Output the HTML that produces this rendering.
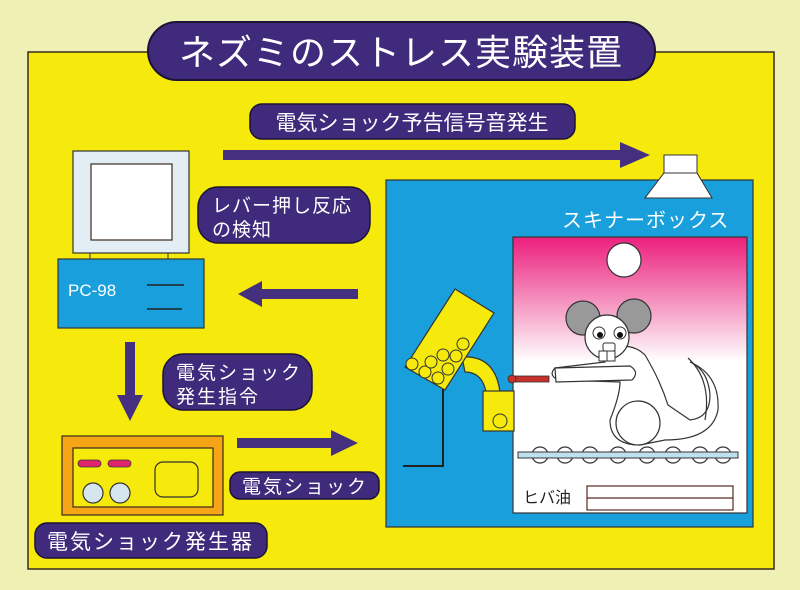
<!DOCTYPE html>
<html><head><meta charset="utf-8"><style>
html,body{margin:0;padding:0;background:#eef0b4;}
svg{display:block}
text{font-family:"Liberation Sans","Noto Sans CJK JP",sans-serif;fill:#fff;}
</style></head><body>
<svg width="800" height="590" viewBox="0 0 800 590" xmlns="http://www.w3.org/2000/svg">
<defs>
<linearGradient id="pk" x1="0" y1="0" x2="0" y2="1">
<stop offset="0" stop-color="#ec1f7d"/><stop offset="0.38" stop-color="#fbdbe9"/><stop offset="0.45" stop-color="#fff"/><stop offset="1" stop-color="#fff"/>
</linearGradient>
</defs>
<rect x="0" y="0" width="800" height="590" fill="#eef0b4"/>
<rect x="28" y="52" width="746" height="517" fill="#f5ea0c" stroke="#3a2a20" stroke-width="1.5"/>
<!-- title -->
<rect x="148" y="22" width="507" height="58" rx="29" fill="#3f2a7c" stroke="#1d1238" stroke-width="2"/>
<text x="401" y="65" font-size="36" text-anchor="middle" letter-spacing="1">ネズミのストレス実験装置</text>
<!-- subtitle -->
<rect x="250" y="104" width="325" height="35" rx="12" fill="#3f2a7c" stroke="#1d1238" stroke-width="1.5"/>
<text x="412" y="130" font-size="21" text-anchor="middle">電気ショック予告信号音発生</text>
<!-- top arrow -->
<rect x="223" y="150" width="400" height="10" fill="#44307e"/>
<polygon points="620,142 650,155 620,168" fill="#44307e"/>
<!-- speaker -->
<polygon points="664,155 697,155 697,173 712,198 645,198 664,173" fill="#fff" stroke="#333" stroke-width="1"/>
<!-- monitor -->
<rect x="73" y="151" width="116" height="102" fill="#e2eef4" stroke="#333" stroke-width="1.2"/>
<rect x="91" y="164" width="81" height="76" fill="#fff" stroke="#3a2a20" stroke-width="1.2"/>
<line x1="90" y1="253" x2="90" y2="260" stroke="#333"/><line x1="168" y1="253" x2="168" y2="260" stroke="#333"/>
<rect x="58" y="259" width="146" height="69" fill="#19a0dc" stroke="#333" stroke-width="1.2"/>
<text x="68" y="296" font-size="17">PC-98</text>
<line x1="147" y1="285" x2="184" y2="285" stroke="#222" stroke-width="1.5"/>
<line x1="147" y1="309" x2="182" y2="309" stroke="#222" stroke-width="1.5"/>
<!-- bubble lever -->
<rect x="198" y="187" width="172" height="56" rx="20" fill="#3f2a7c" stroke="#1d1238" stroke-width="1.5"/>
<text x="212" y="212" font-size="19" letter-spacing="1">レバー押し反応</text>
<text x="212" y="236" font-size="19" letter-spacing="1">の検知</text>
<!-- left arrow -->
<rect x="260" y="289" width="98" height="10" fill="#44307e"/>
<polygon points="262,281 238,294 262,307" fill="#44307e"/>
<!-- down arrow -->
<rect x="125" y="342" width="10" height="56" fill="#44307e"/>
<polygon points="117,395 143,395 130,421" fill="#44307e"/>
<!-- bubble command -->
<rect x="163" y="354" width="149" height="56" rx="20" fill="#3f2a7c" stroke="#1d1238" stroke-width="1.5"/>
<text x="176" y="379" font-size="19" letter-spacing="2">電気ショック</text>
<text x="176" y="403" font-size="19" letter-spacing="2">発生指令</text>
<!-- generator -->
<rect x="62" y="436" width="161" height="79" fill="#f5a515" stroke="#3a2a20" stroke-width="1.2"/>
<rect x="73" y="448" width="140" height="59" fill="#f5ea0c" stroke="#3a2a20" stroke-width="1.2"/>
<rect x="78" y="460" width="23" height="7" rx="3.5" fill="#e0246e" stroke="#333" stroke-width="0.8"/>
<rect x="108" y="460" width="23" height="7" rx="3.5" fill="#e0246e" stroke="#333" stroke-width="0.8"/>
<circle cx="93" cy="493" r="10" fill="#d6e6ef" stroke="#333" stroke-width="1.2"/>
<circle cx="120" cy="493" r="10" fill="#d6e6ef" stroke="#333" stroke-width="1.2"/>
<rect x="155" y="462" width="43" height="35" rx="8" fill="#f5ea0c" stroke="#333" stroke-width="1.2"/>
<!-- right arrow -->
<rect x="237" y="438" width="97" height="10" fill="#44307e"/>
<polygon points="331,430 358,443 331,456" fill="#44307e"/>
<rect x="230" y="472" width="149" height="27" rx="10" fill="#3f2a7c" stroke="#1d1238" stroke-width="1.5"/>
<text x="242" y="493" font-size="19" letter-spacing="2">電気ショック</text>
<rect x="35" y="523" width="232" height="35" rx="12" fill="#3f2a7c" stroke="#1d1238" stroke-width="1.5"/>
<text x="47" y="549" font-size="21" letter-spacing="2">電気ショック発生器</text>
<!-- blue box -->
<rect x="386" y="180" width="367" height="347" fill="#19a0dc" stroke="#333" stroke-width="1.2"/>
<polygon points="664,180 697,180 697,173 664,173" fill="#fff"/>
<polygon points="664,173 697,173 712,198 645,198" fill="#fff" stroke="#333" stroke-width="1"/>
<text x="562" y="227" font-size="20" letter-spacing="1">スキナーボックス</text>
<rect x="513" y="237" width="234" height="276" fill="url(#pk)" stroke="#333" stroke-width="1.2"/>
<circle cx="624" cy="260" r="17" fill="#fff" stroke="#333" stroke-width="1.2"/>
<!-- mouse -->
<circle cx="583" cy="318" r="17" fill="#999" stroke="#333" stroke-width="1.2"/>
<circle cx="634" cy="316" r="17" fill="#999" stroke="#333" stroke-width="1.2"/>
<path d="M600,350 Q630,340 645,355 Q660,380 668,405 L690,420 Q710,418 710,395 Q708,370 690,362 Q720,375 718,410 Q712,440 665,440 L640,445 Q610,445 610,420 Q620,395 620,382 L558,380 Q548,375 555,368 L605,362 Z" fill="#fff" stroke="#333" stroke-width="1.2"/>
<path d="M688,358 Q712,380 705,420" fill="none" stroke="#333" stroke-width="1.2"/>
<circle cx="607" cy="337" r="22" fill="#fff" stroke="#333" stroke-width="1.2"/>
<circle cx="599" cy="333" r="6" fill="#fff" stroke="#333"/><circle cx="600" cy="335" r="3" fill="#111"/>
<circle cx="620" cy="333" r="6" fill="#fff" stroke="#333"/><circle cx="620" cy="335" r="3" fill="#111"/>
<rect x="603" y="343" width="12" height="8" rx="2" fill="#fff" stroke="#333"/>
<rect x="599" y="351" width="8" height="10" fill="#fff" stroke="#333"/><rect x="607" y="351" width="8" height="10" fill="#fff" stroke="#333"/>
<circle cx="638" cy="423" r="22" fill="#fff" stroke="#333" stroke-width="1.2"/>
<path d="M555,368 L630,366 Q640,372 632,380 L556,382 Z" fill="#fff" stroke="#333" stroke-width="1.2"/>
<!-- lever -->
<rect x="511" y="376" width="38" height="6" fill="#c8302a" stroke="#333" stroke-width="0.8"/>
<circle cx="512" cy="379" r="4" fill="#c8302a" stroke="#333" stroke-width="0.8"/>
<!-- rail -->
<g fill="#fff" stroke="#333" stroke-width="1.2">
<circle cx="540" cy="455" r="8"/><circle cx="565" cy="455" r="8"/><circle cx="590" cy="455" r="8"/><circle cx="618" cy="455" r="8"/><circle cx="647" cy="455" r="8"/><circle cx="673" cy="455" r="8"/><circle cx="700" cy="455" r="8"/><circle cx="723" cy="455" r="8"/>
</g>
<rect x="518" y="452" width="220" height="6" fill="#bfe0ee" stroke="#333" stroke-width="1"/>
<text x="523" y="503" font-size="16" style="fill:#222">ヒバ油</text>
<rect x="587" y="486" width="146" height="24" fill="#fff" stroke="#5a2a20" stroke-width="1.2"/>
<line x1="587" y1="498" x2="733" y2="498" stroke="#5a2a20" stroke-width="1.2"/>
<!-- feeder -->
<polyline points="443,388 443,466 403,466" fill="none" stroke="#222" stroke-width="2"/>
<path d="M462,357 Q495,355 500,392 L486,392 Q482,372 465,372 Z" fill="#f5ea0c" stroke="#333" stroke-width="1.2"/>
<polygon points="455,289 494,313 445,390 405,367" fill="#f5ea0c" stroke="#333" stroke-width="1.2"/>
<g fill="#f5ea0c" stroke="#333" stroke-width="1">
<circle cx="412" cy="364" r="6"/><circle cx="425" cy="372" r="6"/><circle cx="438" cy="378" r="6"/><circle cx="431" cy="362" r="6"/><circle cx="448" cy="369" r="6"/><circle cx="443" cy="355" r="6"/><circle cx="456" cy="356" r="6"/><circle cx="463" cy="344" r="6"/>
</g>
<rect x="483" y="391" width="31" height="40" fill="#f5ea0c" stroke="#333" stroke-width="1.2"/>
<circle cx="500" cy="421" r="7" fill="#f5ea0c" stroke="#333"/>
</svg>
</body></html>
